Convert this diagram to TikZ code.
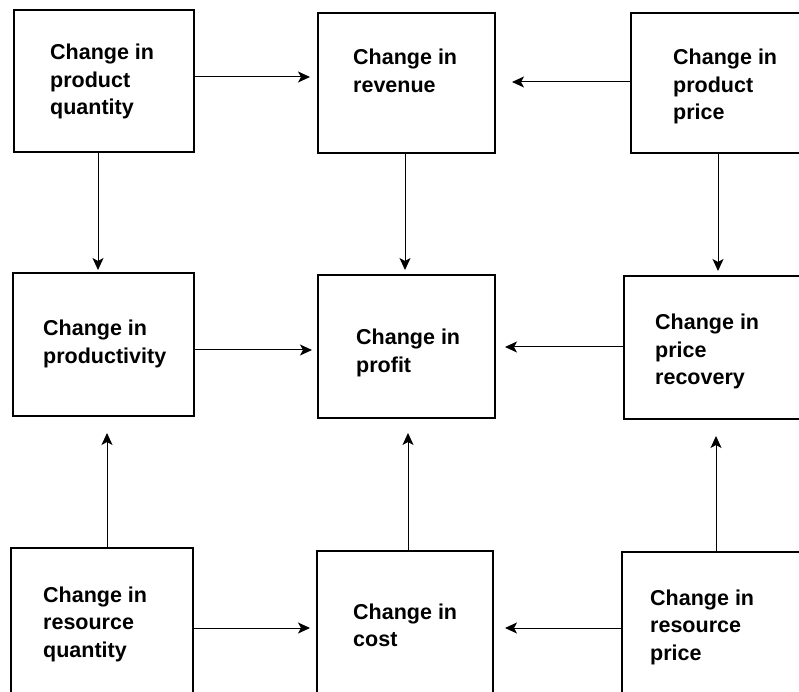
\documentclass[tikz,border=0pt]{standalone}
\usepackage{fontspec}
\setmainfont{Liberation Sans}
\usetikzlibrary{arrows.meta}
\newcommand{\lab}[1]{\begin{tabular}[t]{@{}l@{}}#1\end{tabular}}
\begin{document}
\begin{tikzpicture}[x=1pt,y=1pt,
  box/.style={draw=black, line width=1.1pt, inner sep=0pt, outer sep=0pt},
  lbl/.style={anchor=base west, inner sep=0pt, font=\fontsize{21.5}{27.5}\selectfont\bfseries},
  arr/.style={draw=black, line width=1pt, -{Stealth[length=12pt,width=11pt,inset=3pt]}}]
\useasboundingbox (0,0) rectangle (799,691);
\clip (0,0) rectangle (799,691);
% boxes
\node[box, minimum width=180pt, minimum height=142pt] (b1) at (104,610) {};
\node[box, minimum width=177pt, minimum height=140pt] (b2) at (406.5,608) {};
\node[box, minimum width=179pt, minimum height=140pt] (b3) at (720.5,608) {};
\node[box, minimum width=181pt, minimum height=143pt] (b4) at (103.5,346.5) {};
\node[box, minimum width=177pt, minimum height=143pt] (b5) at (406.5,344.5) {};
\node[box, minimum width=186pt, minimum height=143pt] (b6) at (717,343.5) {};
\node[box, minimum width=182pt, minimum height=152pt] (b7) at (102,67) {};
\node[box, minimum width=176pt, minimum height=149pt] (b8) at (405,65.5) {};
\node[box, minimum width=188pt, minimum height=148pt] (b9) at (716,65) {};
% labels
\node[lbl] (t1) at (50,631) {\lab{Change in\\product\\quantity}};
\node[lbl] (t2) at (353,626) {\lab{Change in\\revenue}};
\node[lbl] (t3) at (673,626) {\lab{Change in\\product\\price}};
\node[lbl] (t4) at (43,355) {\lab{Change in\\productivity}};
\node[lbl] (t5) at (356,346) {\lab{Change in\\profit}};
\node[lbl] (t6) at (655,361) {\lab{Change in\\price\\recovery}};
\node[lbl] (t7) at (43,89) {\lab{Change in\\resource\\quantity}};
\node[lbl] (t8) at (353,72) {\lab{Change in\\cost}};
\node[lbl] (t9) at (650,86) {\lab{Change in\\resource\\price}};
% horizontal arrows
\draw[arr, shorten >=8pt] (b1.east |- 0,614) -- (b2.west |- 0,614);
\draw[arr, shorten >=17pt] (b3.west |- 0,609) -- (b2.east |- 0,609);
\draw[arr, shorten >=6pt] (b4.east |- 0,341) -- (b5.west |- 0,341);
\draw[arr, shorten >=10pt] (b6.west |- 0,344) -- (b5.east |- 0,344);
\draw[arr, shorten >=7pt] (b7.east |- 0,63) -- (b8.west |- 0,63);
\draw[arr, shorten >=12pt] (b9.west |- 0,63) -- (b8.east |- 0,63);
% vertical arrows
\draw[arr, shorten >=3pt] (b1.south -| 98,0) -- (b4.north -| 98,0);
\draw[arr, shorten >=5pt] (b2.south -| 405,0) -- (b5.north -| 405,0);
\draw[arr, shorten >=5pt] (b3.south -| 718,0) -- (b6.north -| 718,0);
\draw[arr, shorten >=17pt] (b7.north -| 107,0) -- (b4.south -| 107,0);
\draw[arr, shorten >=15pt] (b8.north -| 408,0) -- (b5.south -| 408,0);
\draw[arr, shorten >=17pt] (b9.north -| 716,0) -- (b6.south -| 716,0);
\end{tikzpicture}
\end{document}
